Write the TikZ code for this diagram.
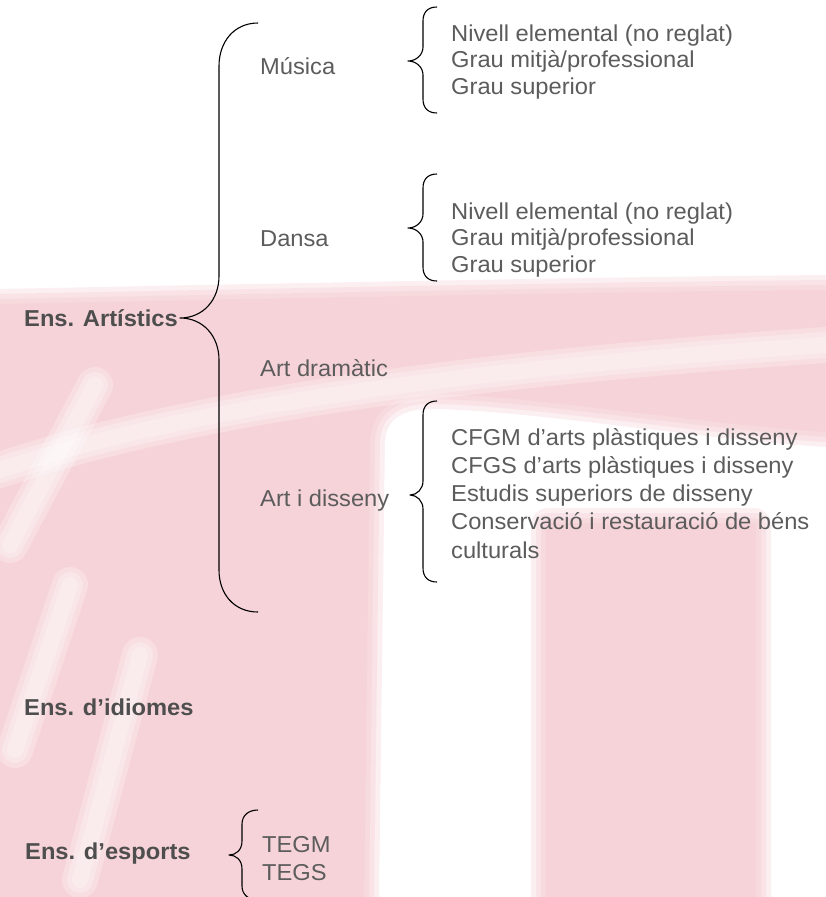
\documentclass[tikz,border=0pt]{standalone}
\usepackage{fontspec}
\setmainfont{Liberation Sans}[FakeStretch=1.03]
\usepackage{tikz}
\usetikzlibrary{positioning}
\definecolor{wmbase}{RGB}{244,192,201}
\definecolor{txtgray}{RGB}{92,92,92}
\definecolor{boldgray}{RGB}{78,78,78}

\begin{document}
\begin{tikzpicture}[x=1pt, y=-1pt,
    grp/.style={font=\fontsize{23}{27}\selectfont\bfseries, text=boldgray, anchor=base west, inner sep=0pt},
    sub/.style={font=\fontsize{23}{27}\selectfont, text=txtgray, anchor=base west, inner sep=0pt},
    bracket/.style={black, line width=1.1pt, line join=round},
    wm/.style={fill=wmbase, draw=wmbase, line join=round},
    streak/.style={white, opacity=0.25, line cap=round}
]

\useasboundingbox (0,0) rectangle (825,897);

% Fons
\fill[white] (0,0) rectangle (825,897);
\foreach \w in {34,24,14,4}{
  \begin{scope}[transparency group, opacity=0.25]
    \filldraw[wm, line width=\w pt] (0,306) .. controls (300,300) and (600,294) .. (825,292)
        -- (825,430) .. controls (700,422) and (520,392) .. (430,392)
        .. controls (392,392) and (370,410) .. (368,440)
        -- (362,897) -- (0,897) -- cycle;
    \filldraw[wm, line width=\w pt] (548,525) rectangle (754,897);
  \end{scope}
}
\foreach \w in {36,26,16}{
  \draw[streak, line width=\w pt] (0,470) .. controls (150,420) and (380,375) .. (825,345);
  \draw[streak, line width=\w pt] (95,385) -- (10,545);
  \draw[streak, line width=\w pt] (70,585) -- (15,750);
  \draw[streak, line width=\w pt] (140,655) -- (80,880);
}

% Ens. Artistics
\node[grp] (art) at (24,326) {Ens. Artístics};
\draw[bracket] (258,23) .. controls (234,23) and (219,42) .. (219,66)
    -- (219,276) .. controls (219,300) and (203,318) .. (180,318)
    .. controls (203,318) and (219,336) .. (219,360)
    -- (219,570) .. controls (219,594) and (234,612) .. (258,612);

% Musica
\node[sub] (mus) at (260,74) {Música};
\draw[bracket] (437,7) .. controls (428,7) and (423,12) .. (423,21)
    -- (423,47) .. controls (423,55) and (416,61) .. (408,61)
    .. controls (416,61) and (423,67) .. (423,75)
    -- (423,99) .. controls (423,108) and (428,113) .. (437,113);
\foreach \t [count=\i] in {Nivell elemental (no reglat), Grau mitjà/professional, Grau superior}
    \node[sub] (mus\i) at (451,{41+26.7*(\i-1)}) {\t};

% Dansa
\node[sub] (dan) at (260,246) {Dansa};
\draw[bracket] (437,174) .. controls (428,174) and (423,179) .. (423,188)
    -- (423,214) .. controls (423,222) and (416,228) .. (408,228)
    .. controls (416,228) and (423,234) .. (423,242)
    -- (423,267) .. controls (423,276) and (428,281) .. (437,281);
\foreach \t [count=\i] in {Nivell elemental (no reglat), Grau mitjà/professional, Grau superior}
    \node[sub] (dan\i) at (451,{219+26.7*(\i-1)}) {\t};

% Art dramatic
\node[sub] (dra) at (260,376) {Art dramàtic};

% Art i disseny
\node[sub] (dis) at (260,506) {Art i disseny};
\draw[bracket] (437,401) .. controls (428,401) and (423,406) .. (423,415)
    -- (423,481) .. controls (423,489) and (417,495) .. (410,495)
    .. controls (417,495) and (423,501) .. (423,509)
    -- (423,568) .. controls (423,577) and (428,582) .. (437,582);
\foreach \t [count=\i] in {CFGM d’arts plàstiques i disseny, CFGS d’arts plàstiques i disseny,
        Estudis superiors de disseny, Conservació i restauració de béns, culturals}
    \node[sub] (dis\i) at (451,{445+28.3*(\i-1)}) {\t};

% Ens. d'idiomes
\node[grp] (idi) at (24,715) {Ens. d’idiomes};

% Ens. d'esports
\node[grp] (esp) at (25,859) {Ens. d’esports};
\draw[bracket] (258,810) .. controls (249,810) and (242,815) .. (242,824)
    -- (242,841) .. controls (242,850) and (236,855) .. (229,855)
    .. controls (236,855) and (242,860) .. (242,869)
    -- (242,886) .. controls (242,895) and (249,900) .. (258,900);
\node[sub] (esp1) at (262,852) {TEGM};
\node[sub] (esp2) at (262,880) {TEGS};

\end{tikzpicture}
\end{document}
